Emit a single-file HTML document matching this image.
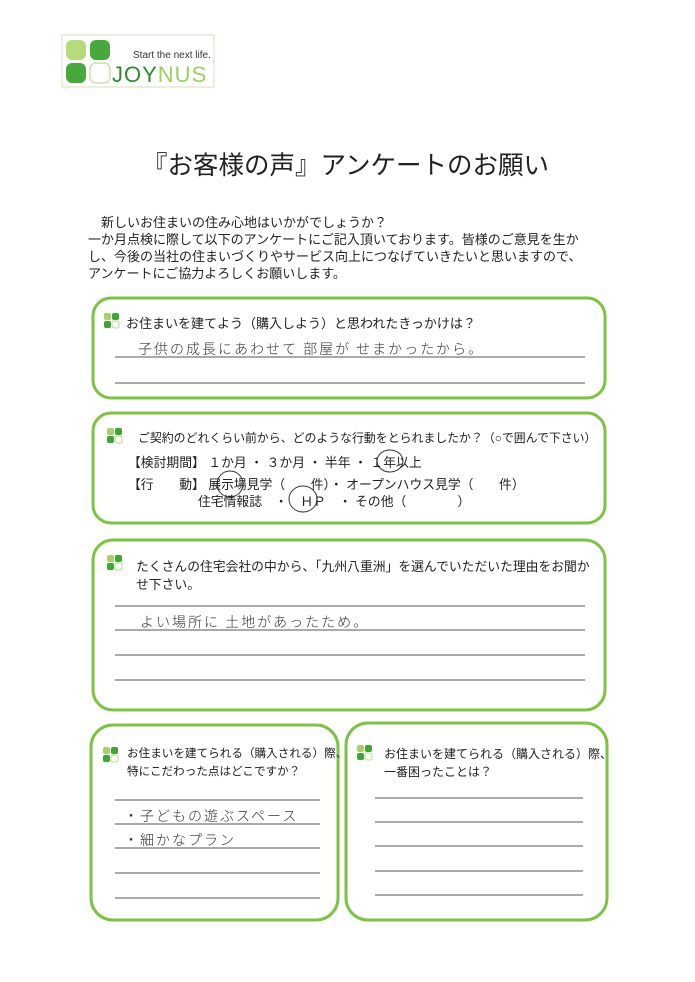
<!DOCTYPE html>
<html><head><meta charset="utf-8"><style>
body{margin:0;width:695px;height:982px;background:#fff;position:relative;overflow:hidden;font-family:"Liberation Sans","Noto Sans CJK JP",sans-serif;color:#222}
.t{position:absolute;white-space:nowrap;font-size:13px}
.h{position:absolute;white-space:nowrap;font-size:14px;color:#333;font-family:"Noto Sans CJK JP",sans-serif;font-weight:300;letter-spacing:2px}
</style></head><body>
<svg width="695" height="982" style="position:absolute;left:0;top:0">
<defs><g id="ic"><rect x="0" y="0" width="7" height="7" rx="2" fill="#a6d16b"/><rect x="8" y="0" width="7" height="7" rx="2" fill="#3fa535"/><rect x="0" y="8" width="7" height="7" rx="2" fill="#3fa535"/><rect x="8" y="8" width="7" height="7" rx="2" fill="#fff" stroke="#b6d98e" stroke-width="1"/></g></defs>
<rect x="62" y="35" width="152" height="52" fill="#fff" stroke="#cfe3bb" stroke-width="1"/>
<rect x="66" y="40" width="20" height="20" rx="6" fill="#b4db7c"/>
<rect x="90" y="40" width="20" height="20" rx="6" fill="#48a83d"/>
<rect x="66" y="63" width="20" height="20" rx="6" fill="#48a83d"/>
<rect x="90" y="63" width="20" height="20" rx="6" fill="#fff" stroke="#c9e3a8" stroke-width="1.5"/>
<text x="133" y="58" font-size="10" fill="#333" font-family="Liberation Sans">Start the next life.</text>
<text x="112" y="82" font-size="22" fill="#2e8b30" font-family="Liberation Sans" letter-spacing="1">JOY<tspan fill="#9ccf62">NUS</tspan></text>
<g fill="none" stroke="#7cc243" stroke-width="3">
<rect x="93" y="298" width="512" height="100" rx="18"/>
<rect x="93" y="413" width="512" height="110" rx="18"/>
<rect x="93" y="540" width="512" height="170" rx="20"/>
<rect x="91" y="725" width="247" height="195" rx="22"/>
<rect x="346" y="723" width="261" height="197" rx="22"/>
</g>
<g stroke="#555" stroke-width="1">
<line x1="115" y1="357" x2="585" y2="357"/><line x1="115" y1="383" x2="585" y2="383"/>
<line x1="115" y1="606" x2="585" y2="606"/><line x1="115" y1="630" x2="585" y2="630"/><line x1="115" y1="655" x2="585" y2="655"/><line x1="115" y1="680" x2="585" y2="680"/>
<line x1="115" y1="800" x2="320" y2="800"/><line x1="115" y1="824" x2="320" y2="824"/><line x1="115" y1="848" x2="320" y2="848"/><line x1="115" y1="873" x2="320" y2="873"/><line x1="115" y1="898" x2="320" y2="898"/>
<line x1="375" y1="798" x2="583" y2="798"/><line x1="375" y1="822" x2="583" y2="822"/><line x1="375" y1="846" x2="583" y2="846"/><line x1="375" y1="871" x2="583" y2="871"/><line x1="375" y1="895" x2="583" y2="895"/>
</g>
<use href="#ic" x="104" y="313"/><use href="#ic" x="107" y="428"/><use href="#ic" x="107" y="555"/><use href="#ic" x="103" y="747"/><use href="#ic" x="357" y="745"/>
<g fill="none" stroke="#333" stroke-width="1">
<ellipse cx="390" cy="461" rx="13" ry="11"/><ellipse cx="230" cy="484" rx="13" ry="13"/><ellipse cx="303" cy="499" rx="14" ry="13"/>
</g>
</svg>
<div class="t" style="left:142px;top:145px;font-size:25.5px">『お客様の声』アンケートのお願い</div>
<div class="t" style="left:101px;top:212px">新しいお住まいの住み心地はいかがでしょうか？</div>
<div class="t" style="left:88px;top:229px">一か月点検に際して以下のアンケートにご記入頂いております。皆様のご意見を生か</div>
<div class="t" style="left:88px;top:246px">し、今後の当社の住まいづくりやサービス向上につなげていきたいと思いますので、</div>
<div class="t" style="left:88px;top:263px">アンケートにご協力よろしくお願いします。</div>
<div class="t" style="left:126px;top:313px">お住まいを建てよう（購入しよう）と思われたきっかけは？</div>
<div class="h" style="left:138px;top:339px">子供の成長にあわせて 部屋が せまかったから。</div>
<div class="t" style="left:138px;top:429px;font-size:11.9px">ご契約のどれくらい前から、どのような行動をとられましたか？（○で囲んで下さい）</div>
<div class="t" style="left:128px;top:452px;font-size:12.8px">【検討期間】 １か月 ・ ３か月 ・ 半年 ・ １年以上</div>
<div class="t" style="left:128px;top:474px;font-size:12.8px">【行　　動】 展示場見学（　　件）・ オープンハウス見学（　　件）</div>
<div class="t" style="left:198px;top:491px;font-size:12.8px">住宅情報誌　・　ＨＰ　・ その他（　　　　）</div>
<div class="t" style="left:136px;top:556px;font-size:12.8px">たくさんの住宅会社の中から、「九州八重洲」を選んでいただいた理由をお聞か</div>
<div class="t" style="left:136px;top:574px;font-size:12.8px">せ下さい。</div>
<div class="h" style="left:140px;top:612px">よい場所に 土地があったため。</div>
<div class="t" style="left:127px;top:745px;font-size:11.6px">お住まいを建てられる（購入される）際、</div>
<div class="t" style="left:127px;top:763px;font-size:11.6px">特にこだわった点はどこですか？</div>
<div class="h" style="left:124px;top:806px">・子どもの遊ぶスペース</div>
<div class="h" style="left:124px;top:830px">・細かなプラン</div>
<div class="t" style="left:384px;top:745px;font-size:12px">お住まいを建てられる（購入される）際、</div>
<div class="t" style="left:384px;top:763px;font-size:12px">一番困ったことは？</div>
</body></html>
